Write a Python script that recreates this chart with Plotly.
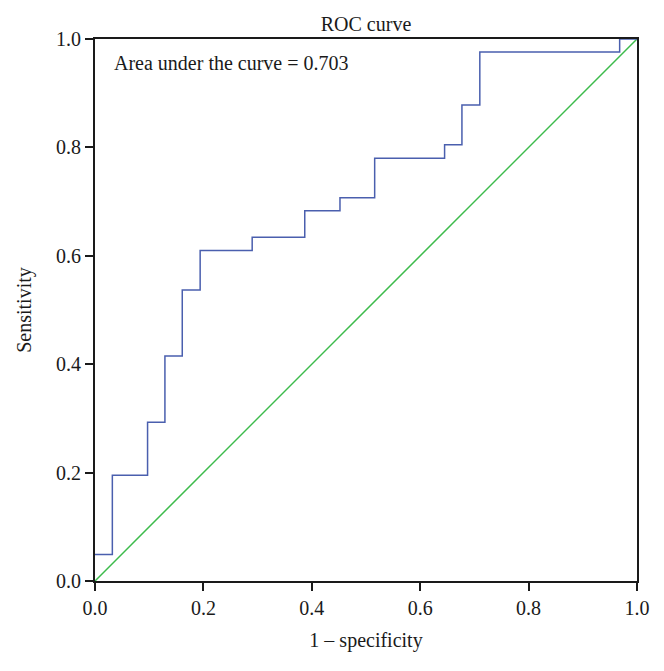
import plotly.graph_objects as go

# ROC step points (1 - specificity, sensitivity)
fpr = [0.0, 0.032, 0.097, 0.129, 0.161, 0.194, 0.290, 0.387, 0.452, 0.516, 0.645, 0.677, 0.710, 0.968, 1.0]
tpr = [0.049, 0.195, 0.293, 0.415, 0.537, 0.610, 0.634, 0.683, 0.707, 0.780, 0.805, 0.878, 0.976, 1.0, 1.0]
ref_x = [0.0, 1.0]
ref_y = [0.0, 1.0]
tick_vals = [0.0, 0.2, 0.4, 0.6, 0.8, 1.0]
auc_text = "Area under the curve = 0.703"

FONT = "Liberation Serif"
FS = 20

fig = go.Figure()
fig.add_trace(go.Scatter(x=ref_x, y=ref_y, mode="lines",
                         line=dict(color="#3dbb4c", width=1.5), showlegend=False))
fig.add_trace(go.Scatter(x=fpr, y=tpr, mode="lines", line_shape="hv",
                         line=dict(color="#4a5fae", width=1.5), showlegend=False))

axis_common = dict(range=[0, 1], tickvals=tick_vals, tickformat=".1f",
                   showgrid=False, zeroline=False, showline=True, linecolor="#1a1a1a",
                   linewidth=2, mirror=True, ticks="outside", ticklen=8, tickwidth=2,
                   tickcolor="#1a1a1a", tickfont=dict(family=FONT, size=FS, color="#1a1a1a"))

fig.update_layout(
    width=656, height=663,
    margin=dict(l=87, r=27, t=31, b=90),
    paper_bgcolor="white", plot_bgcolor="white",
    title=dict(text="ROC curve", x=0.5, xanchor="center", y=1 - 16 / 663, yanchor="middle",
               xref="paper",
               font=dict(family=FONT, size=FS, color="#1a1a1a")),
    xaxis=dict(**axis_common, title=dict(text="1 – specificity", standoff=15,
                                         font=dict(family=FONT, size=FS, color="#1a1a1a"))),
    yaxis=dict(**axis_common, title=dict(text="Sensitivity", standoff=19,
                                         font=dict(family=FONT, size=FS, color="#1a1a1a"))),
    annotations=[dict(text=auc_text, x=0.031, y=0.956, xref="x", yref="y",
                      xanchor="left", yanchor="middle", showarrow=False,
                      font=dict(family=FONT, size=FS, color="#1a1a1a"))],
)

fig.write_html("out.html")
